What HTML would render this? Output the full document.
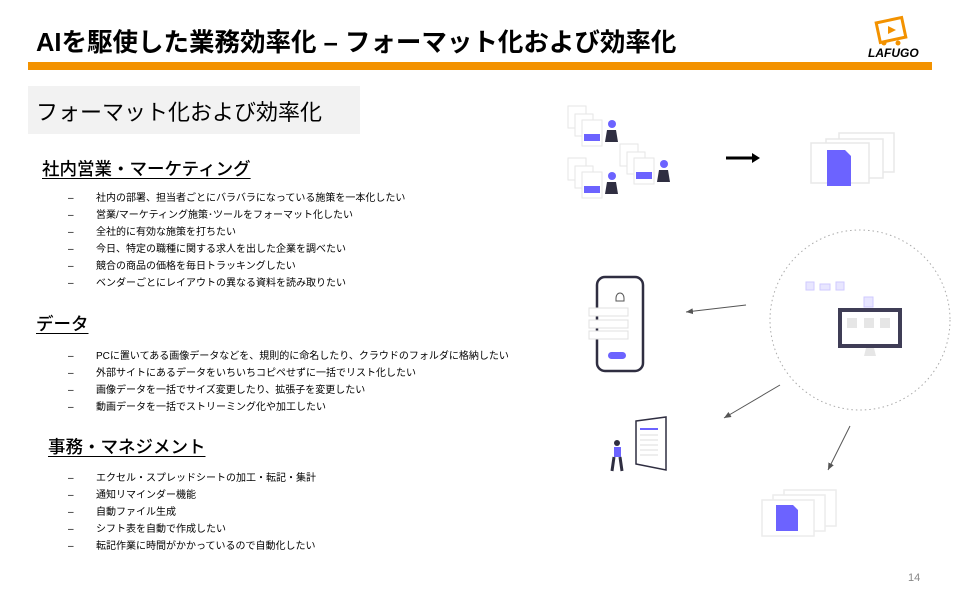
<!DOCTYPE html><html><head><meta charset="utf-8"><style>
body{margin:0;width:960px;height:600px;background:#fff;position:relative;overflow:hidden;font-family:"Liberation Sans","Noto Sans CJK JP",sans-serif;color:#000}
.a{position:absolute;white-space:nowrap}
.h{font-size:17.5px;text-decoration:underline;text-underline-offset:3px;font-weight:500}
.b{font-size:10px;line-height:17px}
.b span{position:absolute;left:-28px}
</style></head><body>
<div class="a" style="left:36px;top:22px;font-size:25.5px;font-weight:bold">AIを駆使した業務効率化 – フォーマット化および効率化</div>
<div class="a" style="left:28px;top:62px;width:904px;height:8px;background:#f39200"></div>
<svg class="a" style="left:860px;top:12px" width="70" height="48">
<rect x="18" y="8" width="26" height="20" fill="none" stroke="#f39200" stroke-width="3" transform="rotate(-12 31 18)"/>
<polygon points="28,14 36,18 28,22" fill="#f39200"/>
<circle cx="24" cy="31" r="2.5" fill="#f39200"/><circle cx="38" cy="31" r="2.5" fill="#f39200"/>
<text x="8" y="45" font-family="Liberation Sans" font-weight="bold" font-style="italic" font-size="12">LAFUGO</text></svg>
<div class="a" style="left:28px;top:86px;width:332px;height:48px;background:#f2f2f2"></div>
<div class="a" style="left:36px;top:95px;font-size:22px">フォーマット化および効率化</div>
<div class="a h" style="left:42px;top:156px">社内営業・マーケティング</div>
<div class="a b" style="left:96px;top:190px">
<div style="position:relative"><span>–</span>社内の部署、担当者ごとにバラバラになっている施策を一本化したい</div>
<div style="position:relative"><span>–</span>営業/マーケティング施策･ツールをフォーマット化したい</div>
<div style="position:relative"><span>–</span>全社的に有効な施策を打ちたい</div>
<div style="position:relative"><span>–</span>今日、特定の職種に関する求人を出した企業を調べたい</div>
<div style="position:relative"><span>–</span>競合の商品の価格を毎日トラッキングしたい</div>
<div style="position:relative"><span>–</span>ベンダーごとにレイアウトの異なる資料を読み取りたい</div></div>
<div class="a h" style="left:36px;top:311px">データ</div>
<div class="a b" style="left:96px;top:348px">
<div style="position:relative"><span>–</span>PCに置いてある画像データなどを、規則的に命名したり、クラウドのフォルダに格納したい</div>
<div style="position:relative"><span>–</span>外部サイトにあるデータをいちいちコピペせずに一括でリスト化したい</div>
<div style="position:relative"><span>–</span>画像データを一括でサイズ変更したり、拡張子を変更したい</div>
<div style="position:relative"><span>–</span>動画データを一括でストリーミング化や加工したい</div></div>
<div class="a h" style="left:48px;top:434px">事務・マネジメント</div>
<div class="a b" style="left:96px;top:470px">
<div style="position:relative"><span>–</span>エクセル・スプレッドシートの加工・転記・集計</div>
<div style="position:relative"><span>–</span>通知リマインダー機能</div>
<div style="position:relative"><span>–</span>自動ファイル生成</div>
<div style="position:relative"><span>–</span>シフト表を自動で作成したい</div>
<div style="position:relative"><span>–</span>転記作業に時間がかかっているので自動化したい</div></div>
<div class="a" style="left:908px;top:572px;font-size:11px;color:#888">14</div>
<svg class="a" style="left:0;top:0" width="960" height="600">
<defs><marker id="m" markerWidth="8" markerHeight="8" refX="7" refY="4" orient="auto"><path d="M0,1 L7,4 L0,7" fill="#555"/></marker></defs>
<g fill="#fff" stroke="#e6e6e6">
<rect x="568" y="106" width="18" height="22"/><rect x="575" y="114" width="18" height="22"/><rect x="582" y="120" width="20" height="26"/>
<rect x="568" y="158" width="18" height="22"/><rect x="575" y="166" width="18" height="22"/><rect x="582" y="172" width="20" height="26"/>
<rect x="620" y="144" width="18" height="22"/><rect x="627" y="152" width="18" height="22"/><rect x="634" y="158" width="20" height="26"/></g>
<g fill="#6c63ff"><rect x="584" y="134" width="16" height="7"/><rect x="584" y="186" width="16" height="7"/><rect x="636" y="172" width="16" height="7"/>
<circle cx="612" cy="124" r="4"/><circle cx="612" cy="176" r="4"/><circle cx="664" cy="164" r="4"/></g>
<g fill="#2f2e41"><path d="M607 130h9l2 12h-13z"/><path d="M607 182h9l2 12h-13z"/><path d="M659 170h9l2 12h-13z"/></g>
<path d="M726 158h28" stroke="#000" stroke-width="3"/><path d="M752 153l8 5-8 5z"/>
<g fill="#fff" stroke="#e8e8e8" stroke-width="1.5"><rect x="839" y="133" width="55" height="39"/><rect x="826" y="139" width="57" height="39"/><rect x="811" y="143" width="58" height="40"/></g>
<path d="M827 150h18l6 6v30h-24z" fill="#6c63ff"/>
<circle cx="860" cy="320" r="90" fill="none" stroke="#aaa" stroke-dasharray="1.5 3"/>
<rect x="840" y="310" width="60" height="36" fill="#fff" stroke="#3f3d56" stroke-width="4"/>
<rect x="847" y="318" width="10" height="10" fill="#e6e6e6"/><rect x="864" y="318" width="10" height="10" fill="#e6e6e6"/><rect x="880" y="318" width="10" height="10" fill="#e6e6e6"/>
<path d="M866 348h8l2 8h-12z" fill="#e6e6e6"/>
<g fill="#e8e6ff" stroke="#cfcaff"><rect x="806" y="282" width="8" height="8"/><rect x="820" y="284" width="10" height="6"/><rect x="836" y="282" width="8" height="8"/><rect x="864" y="297" width="9" height="10"/></g>
<rect x="597" y="277" width="46" height="94" rx="8" fill="#fff" stroke="#2f2e41" stroke-width="2.5"/>
<g fill="#fff" stroke="#e0e0e0"><rect x="589" y="308" width="39" height="8"/><rect x="589" y="320" width="39" height="8"/><rect x="589" y="331" width="39" height="8"/></g>
<rect x="608" y="352" width="18" height="7" rx="3.5" fill="#6c63ff"/>
<path d="M616 298a4 5 0 0 1 8 0v3h-8z" fill="none" stroke="#555"/>
<path d="M636 421l30-4v53l-30-6z" fill="#fff" stroke="#2f2e41" stroke-width="1.5"/>
<path d="M640 429h18" stroke="#6c63ff" stroke-width="2"/>
<g stroke="#ddd"><path d="M640 435h18M640 440h18M640 445h18M640 450h18M640 455h18"/></g>
<circle cx="617" cy="443" r="3" fill="#2f2e41"/><rect x="614" y="447" width="7" height="10" fill="#6c63ff"/><path d="M614 457l-2 14M620 457l2 14" stroke="#2f2e41" stroke-width="3"/>
<g fill="#fff" stroke="#ececec" stroke-width="1.5"><rect x="784" y="490" width="52" height="36"/><rect x="773" y="495" width="52" height="36"/><rect x="762" y="500" width="52" height="36"/></g>
<path d="M776 505h17l5 5v21h-22z" fill="#6c63ff"/>
<g stroke="#555" stroke-width="1" marker-end="url(#m)"><path d="M746 305L686 312"/><path d="M780 385L724 418"/><path d="M850 426L828 470"/></g>
</svg>
</body></html>
